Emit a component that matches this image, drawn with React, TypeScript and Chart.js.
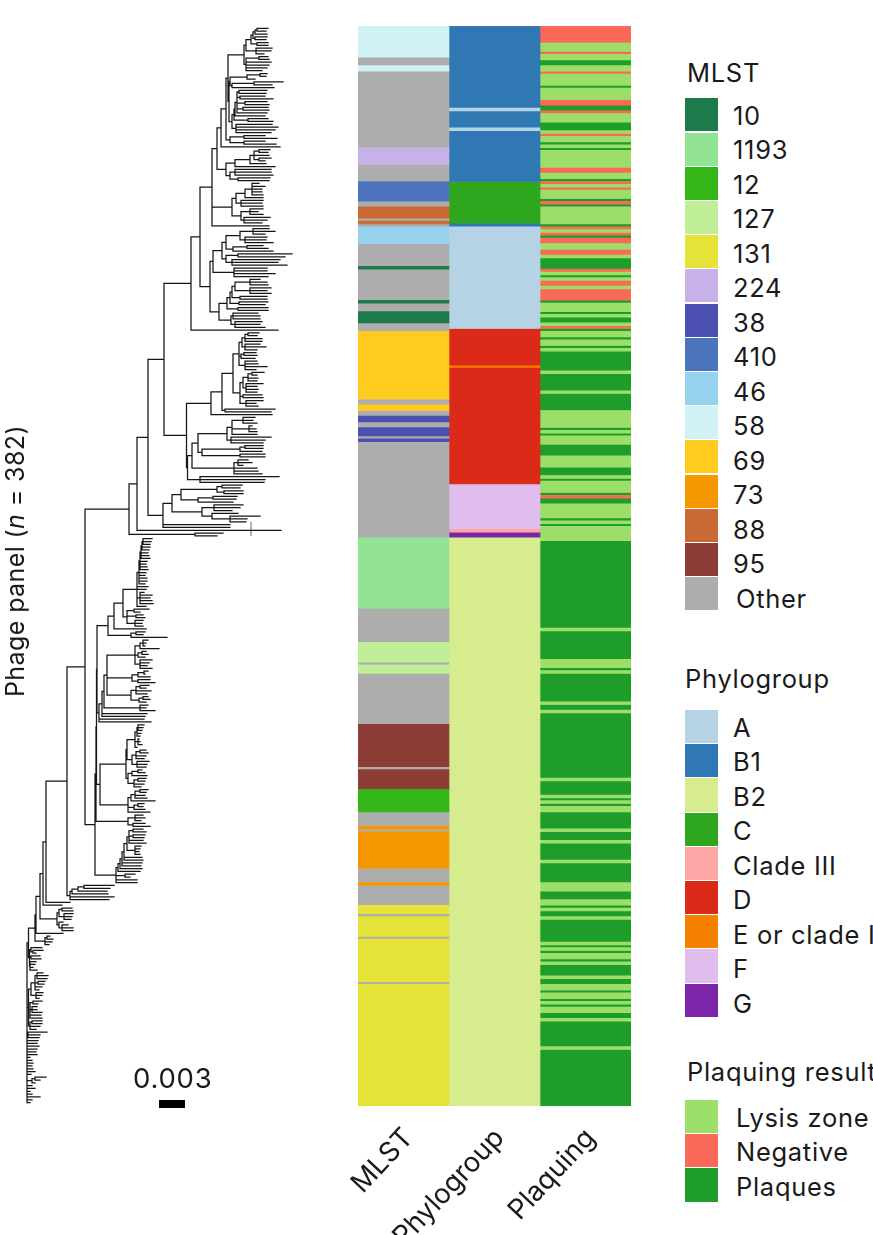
import React, { useEffect, useRef } from "react";
import { Chart, registerables } from "chart.js";

Chart.register(...registerables);

const FONT = "Inter, Roboto, sans-serif";
const TEXT = "#1a1a1a";

// ---------- heatmap: [category, last row (exclusive)] runs, top to bottom, 382 rows ----------
const rowCount = 382;
const columns = ["MLST", "Phylogroup", "Plaquing"];

const mlstRuns: [string, number][] = [
  ["58", 11], ["Other", 14], ["58", 16], ["Other", 43], ["224", 49], ["Other", 55], ["410", 62], ["Other", 64],
  ["88", 68], ["Other", 69], ["88", 70], ["Other", 71], ["46", 77], ["Other", 85], ["10", 86], ["Other", 97],
  ["10", 98], ["Other", 101], ["10", 105], ["Other", 108], ["69", 132], ["Other", 134], ["69", 136], ["Other", 138],
  ["38", 140], ["Other", 142], ["38", 145], ["Other", 146], ["38", 147], ["Other", 181], ["1193", 206], ["Other", 218],
  ["127", 225], ["Other", 226], ["127", 229], ["Other", 247], ["95", 262], ["Other", 263], ["95", 270], ["12", 278],
  ["Other", 283], ["73", 284], ["Other", 285], ["73", 298], ["Other", 303], ["73", 304], ["Other", 311], ["131", 314],
  ["Other", 315], ["131", 322], ["Other", 323], ["131", 338], ["Other", 339], ["131", 382],
];

const phyloRuns: [string, number][] = [
  ["B1", 29], ["A", 30], ["B1", 36], ["A", 37], ["B1", 55], ["C", 70], ["B1", 71], ["A", 107], ["D", 120],
  ["E or clade I", 121], ["D", 162], ["F", 178], ["Clade III", 179], ["G", 181], ["B2", 382],
];

const L = "Lysis zone";
const N = "Negative";
const P = "Plaques";
const plaqueRuns: [string, number][] = [
  [N, 6], [L, 9], [N, 10], [L, 12], [P, 14], [L, 16], [N, 17], [L, 21], [P, 22], [L, 26], [N, 28], [P, 30], [N, 31],
  [L, 34], [P, 37], [L, 38], [N, 39], [L, 41], [P, 42], [L, 43], [P, 44], [L, 50], [N, 52], [L, 54], [P, 55], [N, 56],
  [L, 57], [N, 58], [L, 61], [P, 62], [N, 63], [P, 64], [L, 70], [P, 71], [N, 72], [L, 73], [N, 74], [P, 75], [N, 77],
  [L, 79], [N, 81], [L, 82], [P, 86], [N, 87], [L, 88], [P, 89], [L, 90], [N, 92], [L, 93], [N, 97], [P, 98], [L, 101],
  [P, 102], [L, 103], [P, 105], [L, 106], [N, 107], [P, 108], [L, 110], [P, 111], [L, 113], [P, 114], [L, 115], [P, 122],
  [L, 123], [P, 129], [L, 130], [P, 136], [L, 142], [P, 143], [L, 144], [P, 145], [L, 148], [P, 152], [L, 156], [P, 159],
  [L, 160], [P, 161], [L, 165], [P, 166], [N, 167], [P, 169], [L, 174], [P, 175], [L, 176], [P, 177], [L, 182], [P, 213],
  [L, 214], [P, 224], [L, 227], [P, 228], [L, 229], [P, 239], [L, 240], [P, 242], [L, 243], [P, 266], [L, 267], [P, 272],
  [L, 273], [P, 274], [L, 275], [P, 276], [L, 278], [P, 284], [L, 285], [P, 288], [L, 289], [P, 295], [L, 296], [P, 303],
  [L, 306], [P, 309], [L, 311], [P, 312], [L, 313], [P, 315], [L, 316], [P, 324], [L, 325], [P, 326], [L, 327], [P, 328],
  [L, 330], [P, 331], [L, 332], [P, 336], [L, 337], [P, 339], [L, 341], [P, 342], [L, 344], [P, 345], [L, 346], [P, 347],
  [L, 349], [P, 351], [L, 352], [P, 361], [L, 362], [P, 382],
];

// ---------- legends ----------
const mlstLabels = ["10", "1193", "12", "127", "131", "224", "38", "410", "46", "58", "69", "73", "88", "95", "Other"];
const mlstColors = ["#1d7a4b", "#92e394", "#34b518", "#bfee96", "#e5e337", "#c8b0e8", "#4c50b0", "#4c74bc", "#95d2ee", "#d2f1f5", "#ffcb1f", "#f59800", "#c96a35", "#8c3d35", "#adadad"];
const phyloLabels = ["A", "B1", "B2", "C", "Clade III", "D", "E or clade I", "F", "G"];
const phyloColors = ["#b6d3e6", "#2f78b4", "#d6ec8f", "#2ea71f", "#fca6a6", "#dc2a18", "#f68000", "#e1bdee", "#7c25a8"];
const plaqueLabels = [L, N, P];
const plaqueColors = ["#9bdf69", "#fb6a58", "#1f9d2a"];

// ---------- phylogeny: a node is [node position, ...children]; a number child is a tip position.
// Positions are in tree units; 26 units = a distance of 0.003. Tips take rows in order. ----------
type Node = (number | Node)[];

const a1a: Node = [244, [246, [251, [253, [255, [257, 268, 266], 267], [255, 267, 266]], [257, 268, 268]], [256, 272, 271, 264]], [246, [259, 268, 269], 271, 269, 267, 262]];
const a1b: Node = [230, [247, [260, 267, 266], 255], [232, [254, 283, 272], 274]];
const a2upper: Node = [232, [234, [235, [237, [239, 267, 266], [240, 265, 273], [245, 267, 269], [243, 268, 269], 267], 265], [248, 268, 273]], [236, 272, 278, 275, 271]];
const a2tail: Node = [230, [244, 265, 277], [244, 265, 276]];
const b1: Node = [226, [235, [250, [254, [259, 270, 268], 269, [259, 271, 265]], 266], 275], [230, [235, 271, 271, 273], [238, 270, 269]]];
const c1: Node = [232, [236, [245, [252, 259, 265, 262, 262, 263], 263], [241, 263, 262, 263]], [241, [250, 263, 258, 263], [244, 270, 267, 262]]];
const d1: Node = [213, [222, [226, [240, [253, 269, 275, 265], [245, 267, 266, 273]], [233, [247, 263, 268], 273]], [226, [238, 292, 285], [232, 280, 278, 287]]], [234, 267, 267, 275, 268]];
const d2: Node = [219, [227, [230, [232, [235, [250, 260, 267, 268], [250, 271, 267, 271]], [240, 267, 267]], [239, 268, 265]], [238, 268, 268]], [231, [233, 258, 260, 260], [235, 262, 260, 265]]];
const e1: Node = [239, [242, [245, [248, 259, 257], 262, 262], [245, 260, 266, 257]], [241, [244, 256, 257], 255], [245, 257, 258, 267, 256]];
const e2: Node = [240, [243, [248, [252, 264, 257], 258, 257], [246, 263, 257, 258, 257]], [243, 262, 263], [246, 263, 256, 258]];
const f1: Node = [227, [232, [243, 255, 253, 257], [249, 252, 256, 257], 257], [231, 271, 265, 263]];
const f2: Node = [202, [240, [245, 263, 263], 262], [240, 265, 265]];
const f3: Node = [194, [234, [238, 248, 252, 243], 257, 258, 262]];
const f4: Node = [200, 279, 265, 264];
const g1: Node = [163, [172, [181, [217, [222, 242, 240], [224, 243, 243]], [198, [213, 237, 236], 233]], [202, [214, 243, 240, 232], [212, 238, [230, 260, 247, 246]]]], 230, 230];

const h1a: Node = [137, [139, [140, [141, [142, [143, 152, 151, 150], 150, 149], 148, 149, 150], 147, 146, 147, 148], 146, 145, 147, 147, 145], 148, 146, [140, 144, 152, 150, 152, 153], 146];
const h1b: Node = [127, [134, 149, 140], [136, 143, 145], [135, 143, 142, 143]];
const h2a: Node = [135, [140, [143, 148, 146, 145], 159], [138, [142, 146, 148], 145], [140, 152, 149, 147, 152]];
const h2b: Node = [132, [138, [144, 148, 145], 150], [138, 150, 155]];
const h2c: Node = [131, [136, [140, 149, 146], 151, 147], [139, [143, 148, 150], 146]];
const h2d: Node = [140, 148, 146, 155];
const h3a: Node = [135, [137, [138, 144, 143, 142], 141, 140], [138, 139, 140, 142], 137];
const h3b: Node = [132, [136, [140, 146, 148], 146, 144], [137, 149, 147, 146]];
const h3c: Node = [128, [132, [138, 142, 145], 147], [134, [138, 146, 145], 144, 141]];
const h4: Node = [128, [131, [135, [140, 148, 146], 145, 147], 155], [134, [138, 144, 143], 145], 150];
const h5a: Node = [128, [135, 143, 145, 141], [133, 145, 150]];
const h5b: Node = [116, [118, [120, [122, [124, [127, [129, [133, 143, 146], [133, 145, 144], 143, 146], [135, 141, 140, 139, 140]], 142, 143], 142, 141], 142], 140], [125, 135, 130], 137, 137];
const i1: Node = [70, [72, [78, [84, 114, 110], 107], 108], 114, 109];
const j1: Node = [57, [59, [62, 72, 73], [64, 73, 72, 71]], [59, 63, [62, 68, 73, 73]]];
const k1: Node = [45, [47, 50, 53], 52, 49];
const l1: Node = [29.5, [31, 42, [33, 43, 36]], [31, 40, 41], [30, 36, 35, 33, 37]];
const l2: Node = [28.5, [31, [35, [37, 43, 48, 47], [38, 45, 44], 42, 39], [36, 43, 42, 39]], [30, [33, 42, 38], [32, 37, 37, 42], 41, 42], [30, [32, 42, 42], 40, 36]];
const l3Tips: Node = [[28, 47, 40, 39], 38, 37, 39, 37, 36, 37, 30, 32, 33, 32, 33, 35, 31, [32, [35, 46, 40], 35], 32, 35, 30, 32, 40, 32, 30];

// Backbone joins
const groupS: Node = [212, [217, [221, [226, [228, a1a, [229, a1b, a2upper]], a2tail], 280], b1], c1, 269];
const groupT: Node = [191, [200, groupS, [210, d1, d2]], 278];
const groupE: Node = [211, [222, [233, e1, e2], [225, 275, 271]], 272];
const groupU: Node = [186.5, groupE, [187.5, [192, [198, f1, f2], f3], f4]];
const groupZ: Node = [129, [137, [148, [164, groupT, groupU], g1], 281], [195, 223, 217]];
const groupH1: Node = [108, [114, [123, h1a, h1b], 146], [131, [136, 145, 143], 167]];
const groupH2: Node = [99, [102, [104, [107, h2a, h2b, h2c], h2d], 147, 145], 144, 151];
const groupJ: Node = [100, [126, [127, h3a, h3b], h3c], h4];
const groupTop: Node = [95, [96, [96.5, [97, groupH1, groupH2], groupJ], h5a], h5b];
const treeRoot: Node = [27, [28.5, [35, [36, [40, [43, [46, [67, [85, groupZ, groupTop], i1], 70], 62], j1], 63], k1], l1], l2, ...l3Tips];

const scaleBarStart = 159;
const scaleBarLength = 26;
const scaleBarLabel = "0.003";
const breakMarkAt = 251;
const breakMarkRows = [175.5, 180.5];

type Pt = { x: number; y: number };

function layoutTree(root: Node): Pt[] {
  const out: Pt[] = [];
  let row = 0;
  const gap = { x: NaN, y: NaN };
  const seg = (x0: number, y0: number, x1: number, y1: number) => {
    out.push({ x: x0, y: y0 }, { x: x1, y: y1 }, gap);
  };
  const walk = (n: Node): number => {
    const nx = n[0] as number;
    const kids = n.slice(1);
    const ys: number[] = [];
    for (const k of kids) {
      if (typeof k === "number") {
        const y = row + 0.5;
        row += 1;
        seg(nx, y, k, y);
        ys.push(y);
      } else {
        const y = walk(k);
        seg(nx, y, k[0] as number, y);
        ys.push(y);
      }
    }
    const top = ys[0];
    const bottom = ys[ys.length - 1];
    if (top !== bottom) seg(nx, top, nx, bottom);
    return (top + bottom) / 2;
  };
  walk(root);
  return out;
}

function heatDatasets(column: string, runs: [string, number][], labels: string[], colors: string[]) {
  const spans: Record<string, { x: string; y: [number, number] }[]> = {};
  let start = 0;
  for (const [cat, end] of runs) {
    (spans[cat] = spans[cat] || []).push({ x: column, y: [start, end] });
    start = end;
  }
  return labels.map((label, i) => ({
    label,
    data: spans[label] || [],
    backgroundColor: colors[i],
    borderWidth: 0,
    barPercentage: 1,
    categoryPercentage: 1,
    grouped: false,
  }));
}

function Legend(props: { title: string; titleLeft: number; titleY: number; top: number; labelLeft: number[]; labels: string[]; colors: string[] }) {
  const step = 34.2;
  const labelStep = 34.5;
  const text: React.CSSProperties = {
    position: "absolute",
    fontFamily: FONT,
    fontSize: 25.5,
    color: TEXT,
    whiteSpace: "nowrap",
    letterSpacing: "0.7px",
    lineHeight: "30px",
    height: 30,
  };
  return (
    <>
      <div style={{ ...text, left: props.titleLeft, top: props.titleY - 15 }}>{props.title}</div>
      {props.labels.map((label, i) => (
        <React.Fragment key={label}>
          <div style={{ position: "absolute", left: 685, top: props.top + i * step, width: 33, height: step - 1, background: props.colors[i] }} />
          <div style={{ ...text, left: props.labelLeft[i] ?? 733, top: props.top + i * labelStep + 2.5 }}>{label}</div>
        </React.Fragment>
      ))}
    </>
  );
}

export default function App() {
  const treeRef = useRef<HTMLCanvasElement>(null);
  const heatRef = useRef<HTMLCanvasElement>(null);

  useEffect(() => {
    const tree = new Chart(treeRef.current!, {
      type: "scatter",
      data: {
        datasets: [
          { label: "Phylogeny", data: layoutTree(treeRoot), showLine: true, pointRadius: 0, borderColor: "#161616", borderWidth: 1.25, borderCapStyle: "square", spanGaps: false, clip: false },
          { label: "Break", data: [{ x: breakMarkAt, y: breakMarkRows[0] }, { x: breakMarkAt, y: breakMarkRows[1] }], showLine: true, pointRadius: 0, borderColor: "#999999", borderWidth: 1.5, clip: false },
          { label: "Scale", data: [{ x: scaleBarStart, y: rowCount }, { x: scaleBarStart + scaleBarLength, y: rowCount }], showLine: true, pointRadius: 0, borderColor: "#000000", borderWidth: 8, clip: false },
        ],
      } as any,
      options: {
        animation: false,
        responsive: false,
        events: [],
        layout: { padding: { left: 0, right: 0, top: 27, bottom: 131 } },
        plugins: { legend: { display: false }, tooltip: { enabled: false } },
        scales: {
          x: { type: "linear", min: 0, max: 340, display: false },
          y: { type: "linear", min: 0, max: rowCount, reverse: true, display: false },
        },
      },
    });

    const heat = new Chart(heatRef.current!, {
      type: "bar",
      data: {
        labels: columns,
        datasets: [
          ...heatDatasets(columns[0], mlstRuns, mlstLabels, mlstColors),
          ...heatDatasets(columns[1], phyloRuns, phyloLabels, phyloColors),
          ...heatDatasets(columns[2], plaqueRuns, plaqueLabels, plaqueColors),
        ],
      } as any,
      options: {
        animation: false,
        responsive: false,
        events: [],
        layout: { padding: { left: 18, right: 19, top: 26, bottom: 0 } },
        plugins: { legend: { display: false }, tooltip: { enabled: false } },
        scales: {
          x: {
            type: "category",
            grid: { display: false, drawTicks: false },
            border: { display: false },
            afterFit: (s: any) => {
              s.height = 129;
              s.paddingLeft = 0;
              s.paddingRight = 0;
            },
            ticks: {
              autoSkip: false,
              minRotation: 47,
              maxRotation: 47,
              padding: 16,
              labelOffset: 5,
              color: TEXT,
              font: { family: FONT, size: 27.5 },
            },
          },
          y: { type: "linear", min: 0, max: rowCount, reverse: true, display: false },
        },
      },
    } as any);

    return () => {
      tree.destroy();
      heat.destroy();
    };
  }, []);

  return (
    <div style={{ position: "absolute", left: 0, top: 0, width: 873, height: 1235, overflow: "hidden", background: "#fff" }}>
      <canvas ref={treeRef} width={340} height={1235} style={{ position: "absolute", left: 0, top: 0 }} />
      <canvas ref={heatRef} width={310} height={1235} style={{ position: "absolute", left: 340, top: 0 }} />
      <div
        style={{
          position: "absolute",
          left: 15,
          top: 561,
          transform: "translate(-50%,-50%) rotate(-90deg)",
          fontFamily: FONT,
          fontSize: 25,
          color: TEXT,
          whiteSpace: "nowrap",
          letterSpacing: "0.4px",
        }}
      >
        Phage panel (<i>n</i> = 382)
      </div>
      <div style={{ position: "absolute", left: 133, top: 1063, fontFamily: FONT, fontSize: 27.5, color: TEXT, letterSpacing: "0.8px", lineHeight: "30px" }}>
        {scaleBarLabel}
      </div>
      <Legend title="MLST" titleLeft={687} titleY={73} top={98.3} labelLeft={mlstLabels.map((l) => (l === "Other" ? 736 : 733))} labels={mlstLabels} colors={mlstColors} />
      <Legend title="Phylogroup" titleLeft={685} titleY={679} top={710} labelLeft={phyloLabels.map(() => 733)} labels={phyloLabels} colors={phyloColors} />
      <Legend title="Plaquing result" titleLeft={687} titleY={1072} top={1100} labelLeft={plaqueLabels.map(() => 736)} labels={plaqueLabels} colors={plaqueColors} />
    </div>
  );
}
